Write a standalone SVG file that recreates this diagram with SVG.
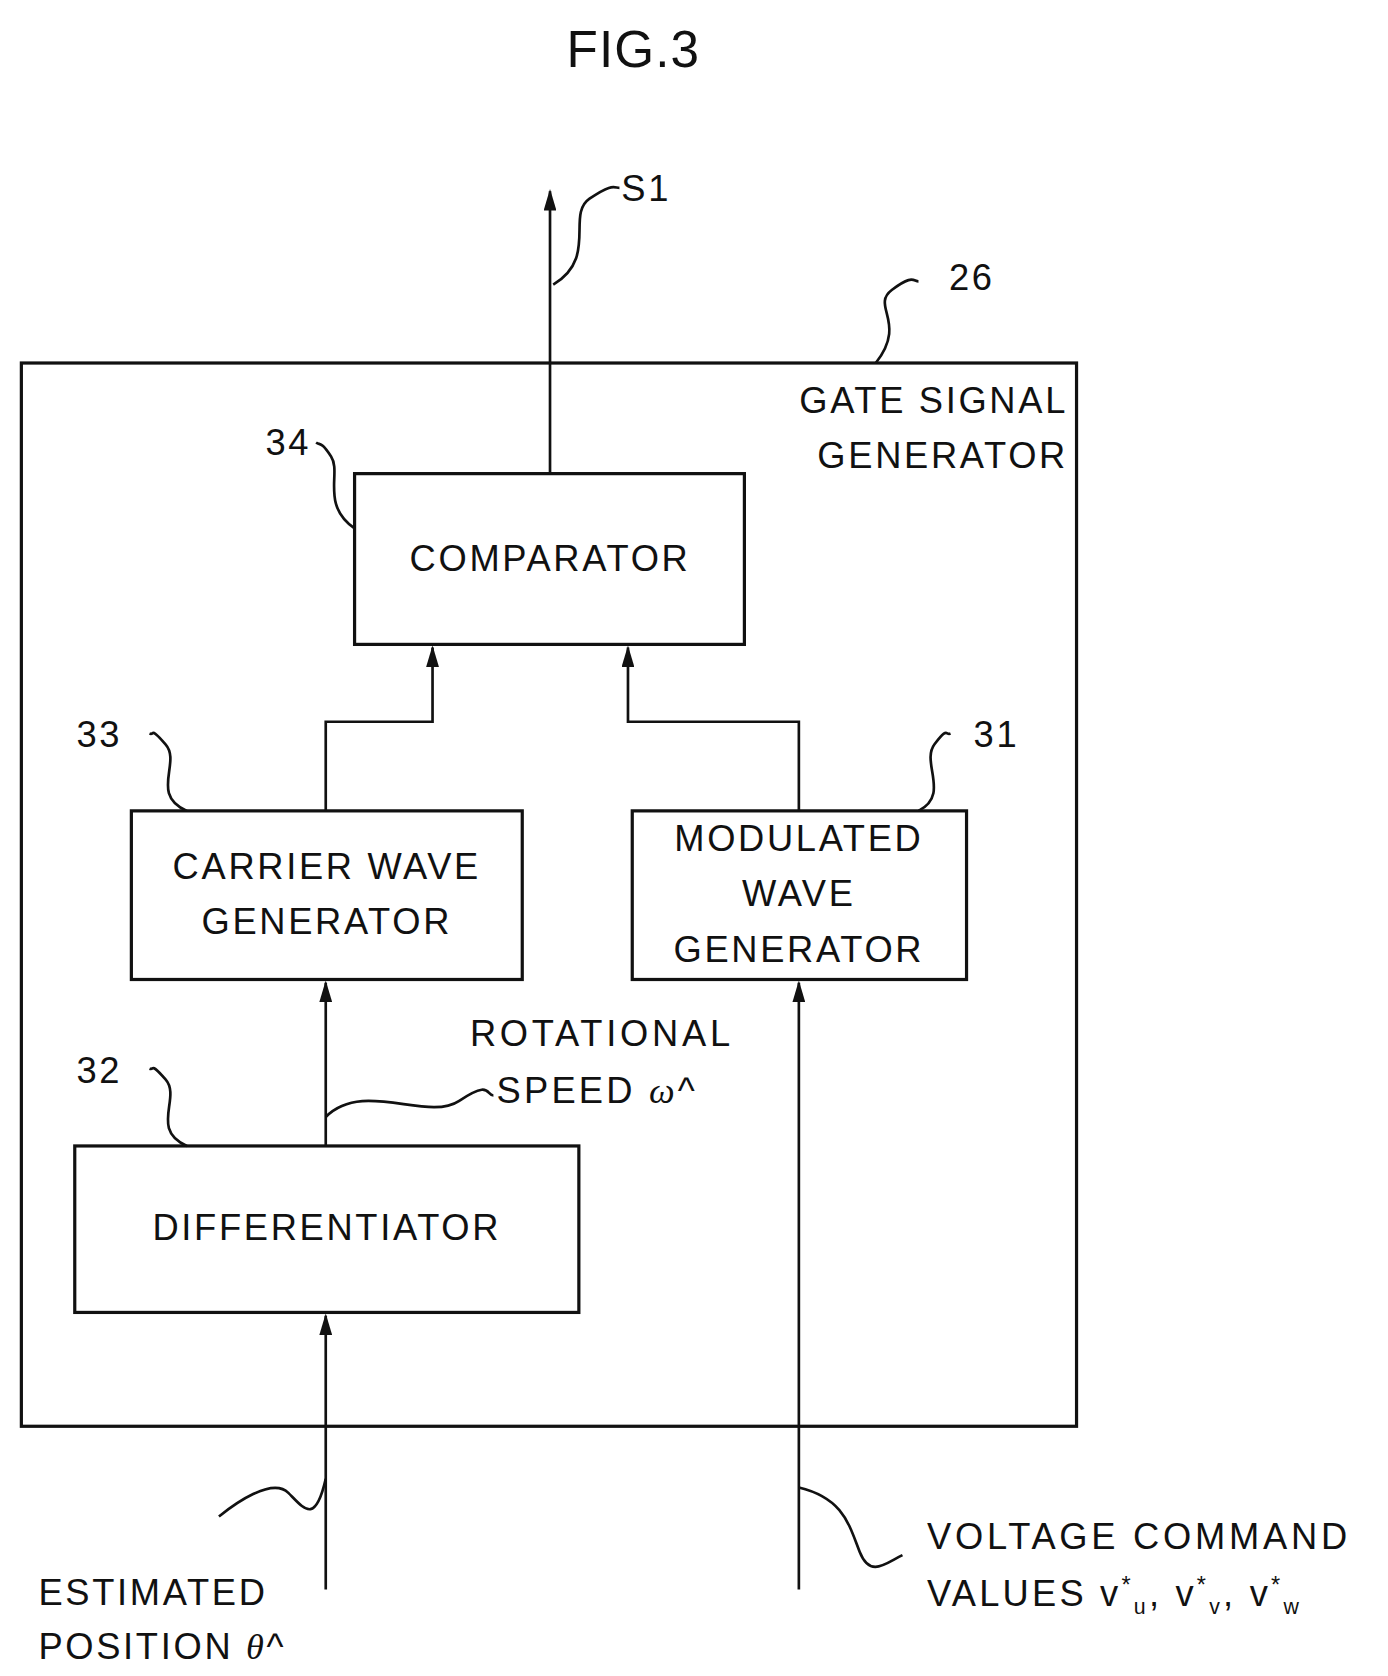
<svg xmlns="http://www.w3.org/2000/svg" width="1388" height="1676" viewBox="0 0 1388 1676">
<defs>
<style>
text{font-family:"Liberation Sans",Arial,sans-serif;font-size:34px;fill:#111;letter-spacing:2.5px}
.b{fill:#fff;stroke:#111;stroke-width:3}
.l{fill:none;stroke:#111;stroke-width:2.5}
.c{text-anchor:middle}
</style>
<marker id="t" viewBox="0 0 20 12" refX="18" refY="6" markerWidth="20" markerHeight="12" orient="auto" markerUnits="userSpaceOnUse"><path d="M0 0 L20 6 L0 12 Z" fill="#111"/></marker>
</defs>
<rect width="1388" height="1676" fill="#fff"/>
<g transform="scale(1.068,1.074)">
<text x="593" y="62" class="c" style="font-size:48px;letter-spacing:1px">FIG.3</text>
<g id="n26"><rect class="b" x="20" y="338" width="988" height="990"/>
<text x="1000" y="385" text-anchor="end">GATE SIGNAL</text><text x="1000" y="436" text-anchor="end">GENERATOR</text>
<text x="910" y="270" class="c">26</text></g>
<g id="n34"><rect class="b" x="332" y="441" width="365" height="159"/><text x="515" y="532" class="c">COMPARATOR</text><text x="270" y="424" class="c">34</text></g>
<g id="n33"><rect class="b" x="123" y="755" width="366" height="157"/><text x="306" y="818" class="c">CARRIER WAVE</text><text x="306" y="870" class="c">GENERATOR</text><text x="93" y="696" class="c">33</text></g>
<g id="n31"><rect class="b" x="592" y="755" width="313" height="157"/><text x="748" y="792" class="c">MODULATED</text><text x="748" y="844" class="c">WAVE</text><text x="748" y="896" class="c">GENERATOR</text><text x="933" y="696" class="c">31</text></g>
<g id="n32"><rect class="b" x="70" y="1067" width="472" height="155"/><text x="306" y="1155" class="c">DIFFERENTIATOR</text><text x="93" y="1008" class="c">32</text></g>
<g id="labels">
<text x="605" y="187" class="c">S1</text>
<text x="440" y="974" style="letter-spacing:3.5px">ROTATIONAL</text><text x="465" y="1027" style="letter-spacing:3px">SPEED <tspan font-family="Liberation Serif" font-style="italic">ω</tspan>^</text>
<text x="36" y="1494">ESTIMATED</text><text x="36" y="1545">POSITION <tspan font-family="Liberation Serif" font-style="italic">θ</tspan>^</text>
<text x="868" y="1442" style="letter-spacing:3.5px">VOLTAGE COMMAND</text>
<text x="868" y="1495" style="letter-spacing:3px">VALUES v<tspan dy="-12" font-size="22">*</tspan><tspan dy="20" font-size="20">u</tspan><tspan dy="-8">, v</tspan><tspan dy="-12" font-size="22">*</tspan><tspan dy="20" font-size="20">v</tspan><tspan dy="-8">, v</tspan><tspan dy="-12" font-size="22">*</tspan><tspan dy="20" font-size="20">w</tspan></text>
</g>
<g id="connectors">
<path class="l" d="M515 441 V178" marker-end="url(#t)"/>
<path class="l" d="M305 755 V672 H405 V603" marker-end="url(#t)"/>
<path class="l" d="M748 755 V672 H588 V603" marker-end="url(#t)"/>
<path class="l" d="M305 1067 V915" marker-end="url(#t)"/>
<path class="l" d="M305 1480 V1225" marker-end="url(#t)"/>
<path class="l" d="M748 1480 V915" marker-end="url(#t)"/>
<path class="l" d="M518 265 C560 240,530 200,552 185 S575 175,580 175"/>
<path class="l" d="M820 338 C850 300,815 285,835 270 S855 262,860 262"/>
<path class="l" d="M332 492 C300 470,320 440,310 425 S300 415,296 412"/>
<path class="l" d="M175 755 C140 740,170 710,155 693 S145 685,140 683"/>
<path class="l" d="M175 1067 C140 1052,170 1022,155 1005 S145 997,140 995"/>
<path class="l" d="M860 755 C890 740,862 710,875 693 S885 685,890 683"/>
<path class="l" d="M305 1040 C340 1005,400 1045,430 1025 S455 1020,462 1020"/>
<path class="l" d="M305 1377 C295 1420,285 1405,270 1390 S220 1400,205 1412"/>
<path class="l" d="M748 1385 C790 1395,795 1420,805 1445 S830 1455,845 1448"/>
</g>
</g>
</svg>
